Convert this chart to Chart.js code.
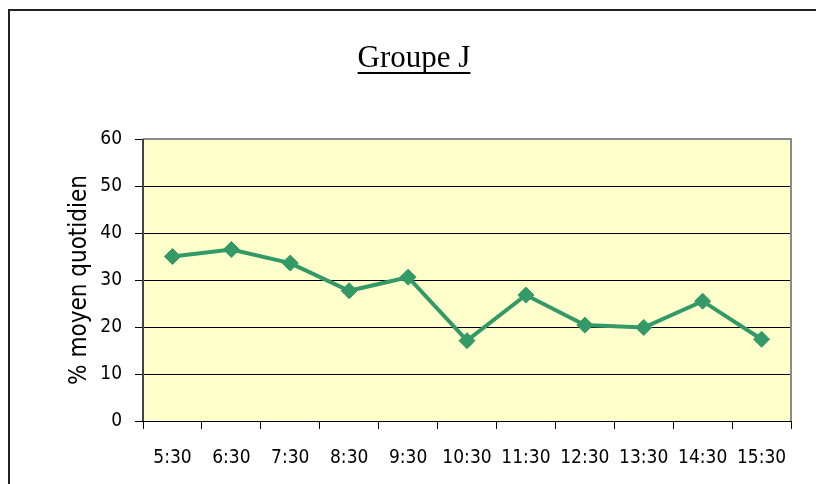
<!DOCTYPE html>
<html>
<head>
<meta charset="utf-8">
<script src="https://cdn.jsdelivr.net/npm/chart.js@4.4.1/dist/chart.umd.min.js"></script>
<style>
  html, body { margin: 0; padding: 0; background: #fff; }
  #wrap { width: 816px; height: 484px; position: relative; }
</style>
</head>
<body>
<div id="wrap"><canvas id="chart_div"></canvas></div>
<script>
// Groupe J - % moyen quotidien par heure
var hours = ['5:30', '6:30', '7:30', '8:30', '9:30', '10:30', '11:30', '12:30', '13:30', '14:30', '15:30'];
var groupeJ = [35, 36.5, 33.6, 27.7, 30.6, 17.1, 26.8, 20.4, 19.9, 25.5, 17.4];
var yTicks = [0, 10, 20, 30, 40, 50, 60];

var chartTitle = 'Groupe J';
var yTitle = '% moyen quotidien';
var narrow = "'Liberation Sans Narrow', 'Arial Narrow', 'DejaVu Sans Condensed', sans-serif";

// frame, plot background, title and y title
var decor = {
    id: 'decor',
    beforeDraw: function (chart) {
        var ctx = chart.ctx, a = chart.chartArea;
        ctx.save();
        ctx.fillStyle = '#FFFFCC';
        ctx.fillRect(a.left, a.top, a.right - a.left, a.bottom - a.top);
        // outer frame (only left and top are visible)
        ctx.strokeStyle = '#222';
        ctx.lineWidth = 2;
        ctx.beginPath();
        ctx.moveTo(9, 484);
        ctx.lineTo(9, 10);
        ctx.lineTo(816, 10);
        ctx.stroke();
        ctx.restore();
    },
    afterDraw: function (chart) {
        var ctx = chart.ctx, a = chart.chartArea;
        ctx.save();
        // plot border
        ctx.strokeStyle = '#8a8a8a';
        ctx.lineWidth = 2;
        ctx.beginPath();
        ctx.moveTo(a.left, a.top);
        ctx.lineTo(a.right, a.top);
        ctx.lineTo(a.right, a.bottom);
        ctx.stroke();
        ctx.strokeStyle = '#444';
        ctx.beginPath();
        ctx.moveTo(a.left, a.bottom);
        ctx.lineTo(a.left, a.top);
        ctx.stroke();

        // title, underlined
        ctx.fillStyle = '#000';
        ctx.font = "31px 'Liberation Serif', 'Times New Roman', serif";
        ctx.textAlign = 'center';
        ctx.textBaseline = 'alphabetic';
        var tx = 414, ty = 67;
        ctx.fillText(chartTitle, tx, ty);
        var w = ctx.measureText(chartTitle).width;
        ctx.fillRect(tx - w / 2, ty + 5, w, 2);

        // y axis title
        ctx.translate(86, (a.top + a.bottom) / 2);
        ctx.rotate(-Math.PI / 2);
        ctx.font = '24px ' + narrow;
        ctx.fillText(yTitle, 0, 0);
        ctx.restore();
    }
};

var ctx = document.getElementById('chart_div').getContext('2d');
var chart = new Chart(ctx, {
    type: 'line',
    data: {
        labels: hours,
        datasets: [{
            data: groupeJ,
            borderColor: '#339966',
            backgroundColor: '#339966',
            borderWidth: 4,
            pointStyle: 'rectRot',
            pointRadius: 8,
            pointHoverRadius: 8,
            pointBorderWidth: 1,
            pointBorderColor: '#339966',
            tension: 0
        }]
    },
    options: {
        responsive: true,
        maintainAspectRatio: false,
        animation: false,
        events: [],
        layout: { padding: { left: 0, top: 139, right: 25, bottom: 0 } },
        plugins: {
            legend: { display: false },
            tooltip: { enabled: false },
            title: { display: false }
        },
        scales: {
            x: {
                offset: true,
                grid: {
                    offset: true,
                    drawOnChartArea: false,
                    drawTicks: true,
                    tickLength: 8,
                    color: '#000'
                },
                border: { display: true, color: '#000', width: 1 },
                ticks: {
                    color: '#000',
                    font: { family: narrow, size: 19 },
                    padding: 18,
                    maxRotation: 0,
                    autoSkip: false
                },
                afterFit: function (scale) { scale.height = 63; }
            },
            y: {
                min: 0,
                max: 60,
                afterBuildTicks: function (scale) {
                    scale.ticks = yTicks.map(function (v) { return { value: v }; });
                },
                grid: {
                    color: '#000',
                    lineWidth: 1,
                    tickLength: 8,
                    tickColor: '#000'
                },
                border: { display: false },
                ticks: {
                    color: '#000',
                    font: { family: narrow, size: 19 },
                    padding: 13
                },
                afterFit: function (scale) { scale.width = 143; }
            }
        }
    },
    plugins: [decor]
});
</script>
</body>
</html>
